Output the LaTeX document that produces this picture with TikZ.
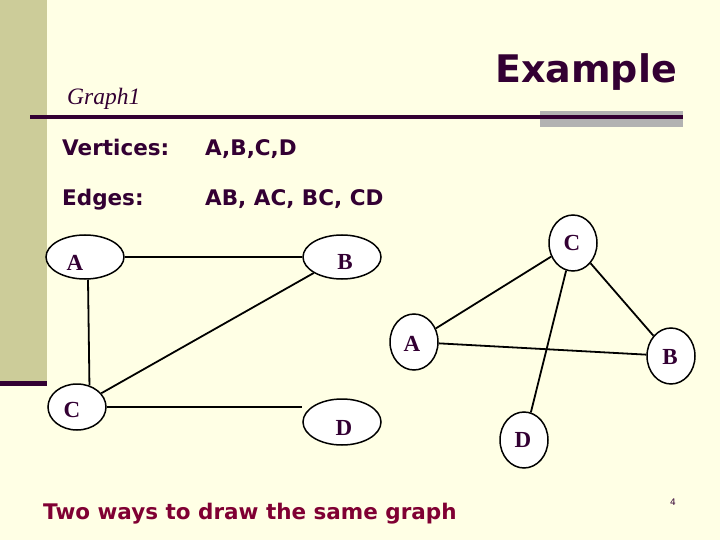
\documentclass[tikz,border=0pt]{standalone}
\usepackage{fontspec}
\setmainfont{Liberation Serif}
\setsansfont{DejaVu Sans}
\usetikzlibrary{shapes.geometric}
\begin{document}
\begin{tikzpicture}[x=1pt,y=-1pt,
  vx/.style={ellipse,draw=black,line width=1.5pt,fill=white,inner sep=0pt},
  hw/.style={vx,minimum width=78pt,minimum height=44pt},
  vt/.style={vx,minimum width=48pt,minimum height=56pt},
  lbl/.style={inner sep=0pt,font=\fontsize{23}{23}\selectfont\bfseries,text=textc},
  ed/.style={line width=1.8pt,draw=black},
  sans/.style={font=\sffamily\bfseries\fontsize{21.5}{21.5}\selectfont,text=textc,anchor=base west,inner sep=0pt}]
\definecolor{bg}{HTML}{FFFFE5}
\definecolor{olive}{HTML}{CCCC99}
\definecolor{textc}{HTML}{330033}
\definecolor{redc}{HTML}{800033}
\fill[bg] (0,0) rectangle (720,540);
\useasboundingbox (0,0) rectangle (720,540);
\fill[olive] (0,0) rectangle (47,382);
\fill[textc] (0,381) rectangle (47,386);
\fill[gray!60] (540,111) rectangle (683,127);
\fill[textc] (30,115.5) rectangle (683,119);
\node[anchor=base east,inner sep=0pt,font=\sffamily\bfseries\fontsize{38}{38}\selectfont,text=textc] (title) at (677,83) {Example};
\node[anchor=base west,inner sep=0pt,font=\itshape\fontsize{23.5}{23.5}\selectfont,text=textc] (g1) at (67,105) {Graph1};
\node[sans] (v1) at (62,156) {Vertices:};
\node[sans] (v2) at (205,156) {A,B,C,D};
\node[sans] (e1) at (62,206) {Edges:};
\node[sans] (e2) at (205,206) {AB, AC, BC, CD};
\node[anchor=base west,inner sep=0pt,font=\sffamily\bfseries\fontsize{21.5}{21.5}\selectfont,text=redc] (cap) at (43,519) {Two ways to draw the same graph};
\node[anchor=base west,inner sep=0pt,font=\sffamily\fontsize{9}{9}\selectfont,text=textc] (pg) at (670,505) {4};
% left graph
\node[hw] (lA) at (85,257) {};
\node[hw] (lB) at (342,257) {};
\node[vx,minimum width=58pt,minimum height=46pt] (lC) at (77,407) {};
\node[hw,minimum height=46pt] (lD) at (342,422) {};
\draw[ed] (lA) -- (lB);
\draw[ed] (lA.south -| 88,0) -- (lC.60);
\draw[ed] (lB) -- (lC);
\draw[ed] (lC.east) -- (lD.west|-lC.east);
\node[lbl] (tA) at (75,263) {A};
\node[lbl] (tB) at (345,262) {B};
\node[lbl] (tC) at (72,410) {C};
\node[lbl] (tD) at (344,428) {D};
% right graph
\node[vt] (rC) at (573,243) {};
\node[vt] (rA) at (414,342) {};
\node[vt] (rB) at (671,356) {};
\node[vt] (rD) at (524,440) {};
\draw[ed] (rA) -- (rC);
\draw[ed] (rC) -- (rB);
\draw[ed] (rA) -- (rB);
\draw[ed] (rC) -- (rD);
\node[lbl] (sC) at (572,243) {C};
\node[lbl] (sA) at (412,344) {A};
\node[lbl] (sB) at (670,357) {B};
\node[lbl] (sD) at (523,440) {D};
\end{tikzpicture}
\end{document}
